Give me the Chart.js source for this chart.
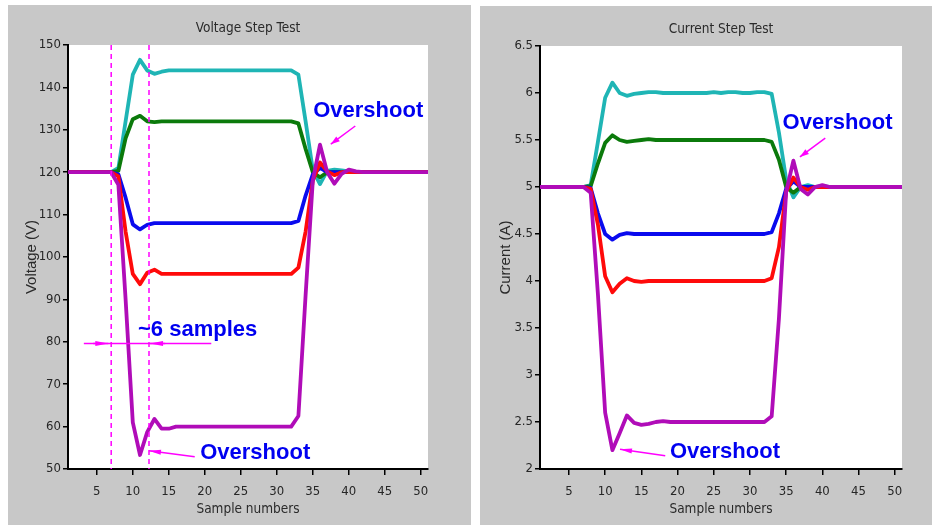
<!DOCTYPE html>
<html>
<head>
<meta charset="utf-8">
<script src="https://cdn.jsdelivr.net/npm/chart.js@4.4.1/dist/chart.umd.min.js"></script>
<style>
  body { margin: 0; background: #fff; width: 932px; height: 525px; overflow: hidden; position: relative; }
  .panel { position: absolute; background: #c8c8c8; }
  .panel canvas { display: block; }
  #p1 { left: 8px; top: 5px; width: 463px; height: 520px; }
  #p2 { left: 480px; top: 6px; width: 452px; height: 519px; }
</style>
</head>
<body>
<div class="panel" id="p1"><canvas id="chVolt" width="463" height="520"></canvas></div>
<div class="panel" id="p2"><canvas id="chCurr" width="452" height="519"></canvas></div>
<script>
// x categories (sample numbers)
var samples = [1, 2, 3, 4, 5, 6, 7, 8, 9, 10,
  11, 12, 13, 14, 15, 16, 17, 18, 19, 20,
  21, 22, 23, 24, 25, 26, 27, 28, 29, 30,
  31, 32, 33, 34, 35, 36, 37, 38, 39, 40,
  41, 42, 43, 44, 45, 46, 47, 48, 49, 50, 51];

// tick labels
var sampleTicks = [5, 10, 15, 20, 25, 30, 35, 40, 45, 50];
var voltTicks = [50, 60, 70, 80, 90, 100, 110, 120, 130, 140, 150];
var currTicks = [2, 2.5, 3, 3.5, 4, 4.5, 5, 5.5, 6, 6.5];

// voltage step test (V)
var voltCyan = [120, 120, 120, 120, 120, 120, 120, 121, 132, 143,
  146.5, 144, 143.2, 143.7, 144, 144, 144, 144, 144, 144,
  144, 144, 144, 144, 144, 144, 144, 144, 144, 144,
  144, 144, 143, 132, 120.5, 117.2, 120.3, 120.6, 120.4, 120.2,
  120, 120, 120, 120, 120, 120, 120, 120, 120, 120, 120];
var voltGreen = [120, 120, 120, 120, 120, 120, 120, 120.3, 128, 132.5,
  133.3, 132, 131.8, 132, 132, 132, 132, 132, 132, 132,
  132, 132, 132, 132, 132, 132, 132, 132, 132, 132,
  132, 132, 131.5, 125.5, 120, 118.8, 120, 120, 120, 120,
  120, 120, 120, 120, 120, 120, 120, 120, 120, 120, 120];
var voltBlue = [120, 120, 120, 120, 120, 120, 120, 119.5, 114, 107.7,
  106.5, 107.6, 108, 108, 108, 108, 108, 108, 108, 108,
  108, 108, 108, 108, 108, 108, 108, 108, 108, 108,
  108, 108, 108.5, 114.5, 119.5, 121, 120, 120, 120, 120,
  120, 120, 120, 120, 120, 120, 120, 120, 120, 120, 120];
var voltRed = [120, 120, 120, 120, 120, 120, 120, 119, 106, 96,
  93.6, 96.3, 97, 96, 96, 96, 96, 96, 96, 96,
  96, 96, 96, 96, 96, 96, 96, 96, 96, 96,
  96, 96, 97.5, 106, 118, 122.3, 120.2, 119.3, 120, 120,
  120, 120, 120, 120, 120, 120, 120, 120, 120, 120, 120];
var voltMagenta = [120, 120, 120, 120, 120, 120, 120, 117, 90, 61,
  53.3, 58.7, 61.8, 59.5, 59.5, 60, 60, 60, 60, 60,
  60, 60, 60, 60, 60, 60, 60, 60, 60, 60,
  60, 60, 62.5, 91, 118, 126.5, 120, 117.3, 119.6, 120.6,
  120.2, 120, 120, 120, 120, 120, 120, 120, 120, 120, 120];

// current step test (A)
var currCyan = [5, 5, 5, 5, 5, 5, 5, 5.02, 5.48, 5.95,
  6.11, 6, 5.97, 5.99, 6, 6.01, 6.01, 6, 6, 6,
  6, 6, 6, 6, 6.01, 6, 6.01, 6.01, 6, 6,
  6.01, 6.01, 5.99, 5.58, 5.08, 4.89, 5, 5.02, 5, 5.01,
  5, 5, 5, 5, 5, 5, 5, 5, 5, 5, 5];
var currGreen = [5, 5, 5, 5, 5, 5, 5, 5.01, 5.25, 5.47,
  5.55, 5.5, 5.48, 5.49, 5.5, 5.51, 5.5, 5.5, 5.5, 5.5,
  5.5, 5.5, 5.5, 5.5, 5.5, 5.5, 5.5, 5.5, 5.5, 5.5,
  5.5, 5.5, 5.48, 5.29, 5, 4.94, 5, 5, 5, 5,
  5, 5, 5, 5, 5, 5, 5, 5, 5, 5, 5];
var currBlue = [5, 5, 5, 5, 5, 5, 5, 4.99, 4.72, 4.5,
  4.44, 4.49, 4.51, 4.5, 4.5, 4.5, 4.5, 4.5, 4.5, 4.5,
  4.5, 4.5, 4.5, 4.5, 4.5, 4.5, 4.5, 4.5, 4.5, 4.5,
  4.5, 4.5, 4.52, 4.72, 4.98, 5.06, 5, 5, 5, 5,
  5, 5, 5, 5, 5, 5, 5, 5, 5, 5, 5];
var currRed = [5, 5, 5, 5, 5, 5, 5, 4.98, 4.6, 4.05,
  3.88, 3.97, 4.03, 4, 3.99, 4, 4, 4, 4, 4,
  4, 4, 4, 4, 4, 4, 4, 4, 4, 4,
  4, 4, 4.03, 4.36, 4.95, 5.1, 5, 4.97, 5, 5,
  5, 5, 5, 5, 5, 5, 5, 5, 5, 5, 5];
var currMagenta = [5, 5, 5, 5, 5, 5, 5, 4.94, 3.86, 2.6,
  2.2, 2.38, 2.57, 2.49, 2.47, 2.48, 2.5, 2.51, 2.5, 2.5,
  2.5, 2.5, 2.5, 2.5, 2.5, 2.5, 2.5, 2.5, 2.5, 2.5,
  2.5, 2.5, 2.56, 3.6, 4.95, 5.28, 4.98, 4.92, 5, 5.02,
  5, 5, 5, 5, 5, 5, 5, 5, 5, 5, 5];

// line colors, top-most first
var colors = ['#b00cb8', '#ff0a0a', '#0a0aee', '#0b7a0b', '#1fb5b5'];

var narrow = '"Liberation Sans Narrow", "DejaVu Sans Condensed", sans-serif';
var plain = '"Liberation Sans", Arial, sans-serif';

// annotations drawn in data units
var notesPlugin = {
  id: 'notes',
  beforeDraw: function (chart) {
    var ctx = chart.ctx, a = chart.chartArea;
    ctx.save();
    ctx.fillStyle = '#fff';
    ctx.fillRect(a.left, a.top, a.right - a.left, a.bottom - a.top);
    ctx.restore();
  },
  afterDatasetsDraw: function (chart, args, o) {
    var ctx = chart.ctx, a = chart.chartArea;
    var sx = chart.scales.x, sy = chart.scales.y;
    var px = function (v) { return sx.getPixelForValue(v); };
    var py = function (v) { return sy.getPixelForValue(v); };
    ctx.save();

    ctx.fillStyle = '#2a2a2a';
    ctx.font = '13.5px ' + narrow;
    ctx.textAlign = 'center';
    ctx.textBaseline = 'middle';
    ctx.fillText(o.title, (a.left + a.right) / 2, a.top - 17);

    ctx.strokeStyle = '#ff00ff';
    ctx.fillStyle = '#ff00ff';
    ctx.lineWidth = 1.5;
    ctx.setLineDash([5, 4]);
    (o.dashes || []).forEach(function (v) {
      ctx.beginPath();
      ctx.moveTo(px(v), a.top);
      ctx.lineTo(px(v), a.bottom);
      ctx.stroke();
    });
    ctx.setLineDash([]);

    (o.lines || []).forEach(function (l) {
      ctx.beginPath();
      ctx.moveTo(px(l[0]), py(l[1]));
      ctx.lineTo(px(l[2]), py(l[3]));
      ctx.stroke();
    });

    (o.arrows || []).forEach(function (r) {
      var x1 = px(r[0]), y1 = py(r[1]), x2 = px(r[2]), y2 = py(r[3]);
      var len = r[4], half = r[5];
      var ang = Math.atan2(y2 - y1, x2 - x1);
      ctx.beginPath();
      ctx.moveTo(x1, y1);
      ctx.lineTo(x2, y2);
      ctx.stroke();
      ctx.beginPath();
      ctx.moveTo(x2, y2);
      ctx.lineTo(x2 - len * Math.cos(ang) + half * Math.sin(ang), y2 - len * Math.sin(ang) - half * Math.cos(ang));
      ctx.lineTo(x2 - len * Math.cos(ang) - half * Math.sin(ang), y2 - len * Math.sin(ang) + half * Math.cos(ang));
      ctx.closePath();
      ctx.fill();
    });

    ctx.fillStyle = '#0000f0';
    ctx.font = 'bold 22px ' + plain;
    (o.labels || []).forEach(function (t) {
      ctx.fillText(t[0], px(t[1]), py(t[2]));
    });
    ctx.restore();
  }
};

function makeSeries(list) {
  return list.map(function (vals, i) {
    return {
      data: vals.map(function (v, k) { return { x: samples[k], y: v }; }),
      borderColor: colors[i],
      borderWidth: 3.8,
      borderJoinStyle: 'round',
      borderCapStyle: 'round',
      pointRadius: 0,
      tension: 0,
      fill: false
    };
  });
}

function makeOptions(yMin, yMax, yTicks, yTitle, yTitlePad, padRight, xHeight, notes) {
  return {
    responsive: false,
    animation: false,
    layout: { padding: { left: 0, right: padRight, top: 40, bottom: 0 } },
    plugins: { legend: { display: false }, tooltip: { enabled: false }, notes: notes },
    scales: {
      x: {
        type: 'linear', min: 1, max: 51,
        afterBuildTicks: function (s) { s.ticks = sampleTicks.map(function (v) { return { value: v }; }); },
        afterFit: function (s) { s.height = xHeight; },
        grid: { drawOnChartArea: false, drawTicks: true, tickLength: 6, color: '#000', lineWidth: 1.5 },
        border: { color: '#000', width: 2 },
        ticks: { color: '#262626', font: { family: narrow, size: 13 }, padding: 9, maxRotation: 0, autoSkip: false },
        title: { display: true, text: 'Sample numbers', color: '#2a2a2a', font: { family: narrow, size: 13.5 }, padding: { top: 0, bottom: 7 } }
      },
      y: {
        min: yMin, max: yMax,
        afterBuildTicks: function (s) { s.ticks = yTicks.map(function (v) { return { value: v }; }); },
        afterFit: function (s) { s.width = 60; },
        grid: { drawOnChartArea: false, drawTicks: true, tickLength: 5, color: '#000', lineWidth: 1.5 },
        border: { color: '#000', width: 2 },
        ticks: { color: '#262626', font: { family: narrow, size: 13 }, padding: 2, autoSkip: false,
          callback: function (v) { return String(v); } },
        title: { display: true, text: yTitle, color: '#2a2a2a', font: { family: plain, size: 15 }, padding: { top: yTitlePad, bottom: 0 } }
      }
    }
  };
}

var chVolt = document.getElementById('chVolt');
if (chVolt) {
  new Chart(chVolt, {
    type: 'line',
    data: { datasets: makeSeries([voltMagenta, voltRed, voltBlue, voltGreen, voltCyan]) },
    options: makeOptions(50, 150, voltTicks, 'Voltage (V)', 15, 43, 56, {
      title: 'Voltage Step Test',
      dashes: [7, 12.25],
      lines: [[3.2, 79.6, 20.9, 79.6]],
      arrows: [
        [4.5, 79.6, 6.6, 79.6, 13, 2.5],
        [14.5, 79.6, 12.4, 79.6, 13, 2.5],
        [40.9, 130.9, 37.5, 126.6, 9, 3],
        [18.6, 52.9, 12.25, 54.3, 12, 2.5]
      ],
      labels: [['Overshoot', 42.7, 134.4], ['Overshoot', 27.0, 53.9], ['~6 samples', 19.0, 82.9]]
    }),
    plugins: [notesPlugin]
  });
}

var chCurr = document.getElementById('chCurr');
if (chCurr) {
  new Chart(chCurr, {
    type: 'line',
    data: { datasets: makeSeries([currMagenta, currRed, currBlue, currGreen, currCyan]) },
    options: makeOptions(2, 6.5, currTicks, 'Current (A)', 17, 30, 56, {
      title: 'Current Step Test',
      arrows: [
        [40.4, 5.52, 36.9, 5.32, 9, 3],
        [18.3, 2.14, 12.05, 2.21, 12, 2.5]
      ],
      labels: [['Overshoot', 42.1, 5.68], ['Overshoot', 26.55, 2.18]]
    }),
    plugins: [notesPlugin]
  });
}
</script>
</body>
</html>
